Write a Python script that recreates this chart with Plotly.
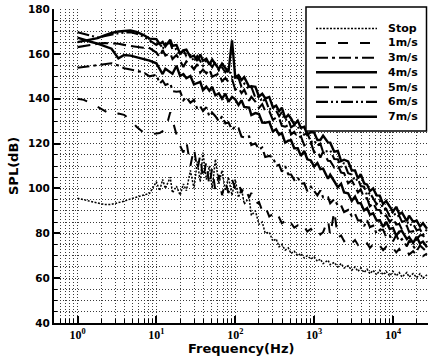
import plotly.graph_objects as go

# ---------------- data ----------------
freq = [1, 1.2, 1.5, 1.8, 2.2, 2.7, 3.3, 3.9, 4.7, 5.6, 6.8, 8.2,
        10, 11, 12, 13, 15, 16, 18, 20, 22, 24, 27, 30, 33, 36, 39, 43, 47, 51, 56, 62, 68, 75, 82, 91,
        100, 110, 120, 130, 150, 160, 180, 200, 220, 240, 270, 300, 330, 360, 390, 430, 470, 510,
        560, 620, 680, 750, 820, 910,
        1000, 1100, 1200, 1300, 1500, 1600, 1800, 2000, 2200, 2400, 2700, 3000, 3300, 3600, 3900,
        4300, 4700, 5100, 5600, 6200, 6800, 7500, 8200, 9100,
        10000, 11000, 12000, 13000, 15000, 16000, 18000, 20000, 22000, 24000, 27000]

spl_stop = [95.6, 95.0, 94.0, 93.4, 92.8, 92.9, 93.5, 94.3, 95.3, 96.0, 96.8, 97.8,
            103.0, 99.0, 104.0, 100.0, 105.0, 98.0, 101.0, 97.0, 102.0, 99.0, 108.0, 100.0,
            112.0, 103.0, 116.0, 104.0, 110.0, 100.0, 113.0, 102.0, 108.0, 99.0, 105.0, 97.0,
            104.0, 96.0, 100.0, 93.0, 96.0, 88.0, 90.0, 84.0, 85.0, 80.0, 80.5, 76.5,
            77.5, 74.0, 75.0, 72.5, 73.5, 71.0, 72.0, 70.0, 71.0, 69.0, 70.0, 68.5,
            69.5, 67.5, 68.5, 66.5, 68.0, 66.0, 67.0, 65.0, 66.5, 64.5, 65.5, 63.5,
            65.0, 63.0, 64.5, 62.5, 64.0, 62.0, 63.5, 61.5, 63.5, 61.5, 63.0, 61.0,
            63.0, 61.0, 62.5, 60.5, 62.5, 60.5, 62.0, 60.2, 62.0, 60.0, 61.5]

spl_1 = [140.0, 139.5, 138.0, 136.5, 134.5, 132.8, 133.4, 132.8, 130.5, 127.5, 125.0, 124.0,
         124.5, 124.7, 125.5, 126.0, 134.0, 130.0, 124.0, 119.0, 116.0, 121.0, 110.0, 118.0,
         108.0, 115.0, 104.0, 112.0, 101.0, 109.0, 99.0, 106.0, 97.0, 103.0, 98.0, 104.0,
         100.0, 103.0, 98.0, 101.0, 96.0, 98.0, 93.0, 94.0, 90.0, 92.0, 87.5, 88.5,
         85.5, 87.0, 84.5, 85.5, 83.0, 84.5, 82.5, 83.5, 81.5, 83.0, 80.8, 82.0,
         80.0, 81.5, 79.5, 80.5, 86.0, 79.0, 90.0, 78.0, 79.0, 76.5, 78.0, 75.5,
         77.0, 74.8, 76.0, 74.0, 75.5, 73.5, 75.0, 73.0, 74.5, 72.5, 74.0, 72.0,
         73.5, 71.5, 73.0, 71.0, 72.5, 70.5, 72.0, 70.2, 71.5, 69.8, 71.0]

spl_3 = [153.8, 154.2, 154.6, 155.0, 155.5, 155.8, 154.8, 153.6, 153.0, 152.5, 151.8, 150.0,
         150.7, 146.8, 148.1, 146.1, 147.0, 143.4, 143.1, 143.3, 139.3, 140.7, 138.2, 139.5,
         135.5, 136.6, 134.5, 136.2, 132.1, 133.8, 132.2, 129.9, 132.1, 129.0, 129.5, 126.1,
         127.6, 126.9, 123.1, 122.8, 123.2, 119.3, 120.1, 117.4, 118.2, 114.0, 114.5, 114.0,
         110.1, 110.5, 107.5, 109.9, 106.3, 106.2, 103.8, 105.0, 102.1, 102.3, 98.8, 100.8,
         98.9, 96.9, 99.1, 96.0, 96.1, 93.4, 95.2, 92.4, 92.4, 89.5, 90.4, 87.7,
         88.7, 85.7, 85.8, 83.2, 85.8, 82.8, 83.4, 79.8, 81.6, 81.6, 78.4, 78.9,
         76.4, 79.2, 76.4, 77.4, 74.2, 76.7, 74.4, 72.2, 74.6, 73.4, 71.6]

spl_4 = [167.2, 166.2, 165.3, 164.6, 163.5, 162.3, 158.0, 159.5, 159.2, 158.6, 157.8, 157.0,
         155.8, 153.3, 151.0, 153.3, 151.9, 151.1, 154.7, 150.1, 151.0, 149.1, 150.1, 146.4,
         147.0, 147.5, 143.8, 145.4, 143.6, 145.3, 141.5, 142.4, 140.0, 142.3, 138.6, 140.8,
         139.7, 137.2, 139.3, 136.3, 136.0, 132.7, 133.6, 133.2, 129.4, 129.3, 129.7, 125.4,
         126.4, 123.9, 124.7, 120.4, 121.3, 121.5, 117.9, 117.9, 114.5, 116.7, 113.0, 112.5,
         109.8, 111.3, 108.6, 108.8, 104.3, 106.1, 103.2, 100.5, 102.1, 98.2, 97.8, 94.4,
         96.4, 93.5, 93.4, 90.2, 91.2, 88.3, 88.9, 85.7, 85.8, 82.8, 85.1, 81.9,
         82.4, 78.9, 80.8, 81.0, 77.4, 78.3, 75.7, 78.4, 75.4, 76.3, 73.7]

spl_5 = [163.0, 163.5, 164.0, 164.5, 164.8, 164.8, 164.5, 164.0, 163.5, 163.0, 162.7, 162.6,
         160.6, 158.6, 161.7, 159.2, 160.3, 157.7, 159.5, 156.8, 154.2, 156.6, 155.1, 153.1,
         155.4, 151.6, 153.0, 151.3, 153.1, 149.8, 150.6, 151.3, 147.8, 149.2, 147.5, 148.8,
         144.0, 144.9, 142.5, 144.0, 139.1, 140.8, 138.7, 135.9, 137.6, 134.5, 134.5, 130.6,
         131.6, 131.4, 127.9, 127.5, 128.2, 124.1, 125.2, 122.5, 123.2, 119.2, 120.3, 120.5,
         116.1, 116.7, 113.8, 116.4, 112.3, 112.2, 109.3, 110.3, 107.1, 106.8, 102.3, 103.6,
         100.9, 98.2, 99.6, 95.7, 95.6, 91.9, 93.6, 90.5, 90.4, 87.2, 88.0, 85.0,
         86.7, 83.9, 84.2, 81.6, 83.3, 80.6, 80.9, 77.3, 79.1, 79.2, 75.9]

spl_6 = [169.6, 169.0, 168.0, 167.3, 168.0, 168.8, 169.2, 169.5, 169.6, 169.0, 167.8, 166.0,
         164.0, 165.1, 162.1, 164.4, 164.9, 161.9, 162.2, 159.4, 161.7, 158.9, 159.5, 156.7,
         159.0, 156.8, 154.7, 157.1, 155.9, 154.1, 156.4, 152.6, 154.0, 151.8, 153.4, 149.8,
         149.1, 149.3, 145.3, 146.7, 144.2, 145.3, 140.5, 141.1, 138.5, 140.0, 135.1, 136.5,
         134.7, 132.2, 134.1, 130.5, 130.8, 127.2, 128.2, 127.8, 124.1, 124.0, 124.8, 120.6,
         121.4, 119.1, 120.0, 116.2, 116.8, 117.0, 113.1, 113.0, 109.5, 111.4, 106.8, 106.2,
         103.3, 104.3, 101.1, 100.8, 96.8, 98.1, 95.6, 93.0, 94.6, 90.9, 90.9, 87.4,
         89.9, 87.4, 87.8, 85.1, 85.7, 83.5, 84.2, 81.4, 81.8, 79.3, 81.8]

spl_7 = [165.2, 165.8, 166.4, 167.0, 168.2, 169.3, 170.0, 170.3, 170.4, 169.8, 168.5, 166.8,
         166.6, 164.4, 165.3, 163.3, 166.3, 163.6, 163.9, 160.1, 161.6, 161.9, 158.6, 159.2,
         156.9, 159.7, 156.9, 157.8, 155.2, 157.5, 155.3, 153.2, 155.6, 153.9, 151.9, 166.0,
         149.6, 150.5, 148.3, 149.6, 145.3, 145.6, 145.3, 141.0, 142.2, 140.2, 140.8, 136.2,
         136.9, 134.5, 136.0, 131.3, 132.8, 131.2, 128.5, 130.2, 127.0, 127.5, 123.9, 125.1,
         124.9, 121.6, 121.6, 123.5, 120.5, 120.4, 116.4, 116.7, 112.2, 112.8, 112.0, 108.1,
         108.0, 104.5, 106.4, 102.3, 101.7, 98.8, 100.0, 96.9, 96.8, 93.0, 94.4, 91.9,
         89.7, 91.8, 88.6, 89.2, 85.4, 87.9, 85.2, 85.6, 83.0, 84.5, 82.0]

legend_names = ["Stop", "1m/s", "3m/s", "4m/s", "5m/s", "6m/s", "7m/s"]
x_tick_vals = [1, 10, 100, 1000, 10000]
x_tick_text = ["10<sup>0</sup>", "10<sup>1</sup>", "10<sup>2</sup>", "10<sup>3</sup>", "10<sup>4</sup>"]

# ---------------- styling ----------------
series = [spl_stop, spl_1, spl_3, spl_4, spl_5, spl_6, spl_7]
styles = [
    ("2px,1.5px", 1.5),
    ("10px,12px", 2.0),
    ("12px,4px,3px,4px", 2.1),
    ("solid", 2.4),
    ("13px,5px", 2.1),
    ("12px,3px,2px,3px,2px,3px", 2.1),
    ("solid", 2.4),
]

W, H = 428, 356
L, R, T, B = 54, 0, 9, 33
PW, PH = W - L - R, H - T - B


def px_x(px):
    return (px - L) / PW


def px_y(py):
    return (H - B - py) / PH


fig = go.Figure()
for name, s, (dash, w) in zip(legend_names, series, styles):
    fig.add_trace(go.Scatter(x=freq, y=s, mode="lines", name=name, showlegend=False,
                             line=dict(color="black", width=w, dash=dash)))

grid_col = "#3a3a3a"
grid_dash = "1px,2px"
minor_x = [k * 10 ** e for e in range(-1, 5) for k in range(2, 10)]

fig.update_xaxes(
    type="log", range=[-0.298, 4.444],
    tickvals=x_tick_vals, ticktext=x_tick_text,
    ticks="inside", ticklen=7, tickwidth=2, tickcolor="black",
    showline=True, linecolor="black", linewidth=2,
    showgrid=True, gridcolor=grid_col, griddash=grid_dash, gridwidth=1,
    zeroline=False,
    tickfont=dict(family="Liberation Serif", size=12, color="black", weight="bold"),
    minor=dict(tickvals=minor_x, ticks="inside", ticklen=4, tickwidth=1, tickcolor="black",
               showgrid=True, gridcolor=grid_col, griddash=grid_dash, gridwidth=1),
)
fig.update_yaxes(
    range=[40, 180], tick0=40, dtick=20,
    ticks="inside", ticklen=6, tickwidth=2, tickcolor="black",
    showline=True, linecolor="black", linewidth=2,
    showgrid=True, gridcolor=grid_col, griddash=grid_dash, gridwidth=1,
    zeroline=False,
    tickfont=dict(family="DejaVu Sans", size=10.5, color="black", weight="bold"),
    minor=dict(dtick=5, ticks="inside", ticklen=3, tickwidth=1, tickcolor="black",
               showgrid=True, gridcolor=grid_col, griddash=grid_dash, gridwidth=1),
)

shapes = [dict(type="rect", xref="paper", yref="paper",
               x0=px_x(306), x1=px_x(426.5), y0=px_y(131), y1=px_y(7),
               fillcolor="white", line=dict(color="black", width=1.5), layer="above")]
annotations = []
row_y = [28.5, 43.0, 57.7, 72.3, 87.2, 101.9, 116.8]
for name, (dash, w), yy in zip(legend_names, styles, row_y):
    shapes.append(dict(type="line", xref="paper", yref="paper",
                       x0=px_x(316), x1=px_x(377), y0=px_y(yy), y1=px_y(yy),
                       line=dict(color="black", width=w, dash=dash), layer="above"))
    annotations.append(dict(text=name, xref="paper", yref="paper", x=px_x(386), y=px_y(yy),
                            xanchor="left", yanchor="middle", showarrow=False,
                            font=dict(family="DejaVu Sans", size=11, color="black", weight="bold")))

annotations.append(dict(text="Frequency(Hz)", xref="paper", yref="paper", x=0.5, y=0,
                        xanchor="center", yanchor="middle", yshift=-25, showarrow=False,
                        font=dict(family="DejaVu Sans", size=13, color="black", weight="bold")))
annotations.append(dict(text="SPL(dB)", xref="paper", yref="paper", x=0, y=0.5,
                        xanchor="center", yanchor="middle", xshift=-(L - 13), textangle=-90,
                        showarrow=False,
                        font=dict(family="DejaVu Sans", size=13, color="black", weight="bold")))

fig.update_layout(
    width=W, height=H,
    margin=dict(l=L, r=R, t=T, b=B, pad=0),
    paper_bgcolor="white", plot_bgcolor="white",
    showlegend=False,
    shapes=shapes, annotations=annotations,
)

fig.write_html("out.html")
